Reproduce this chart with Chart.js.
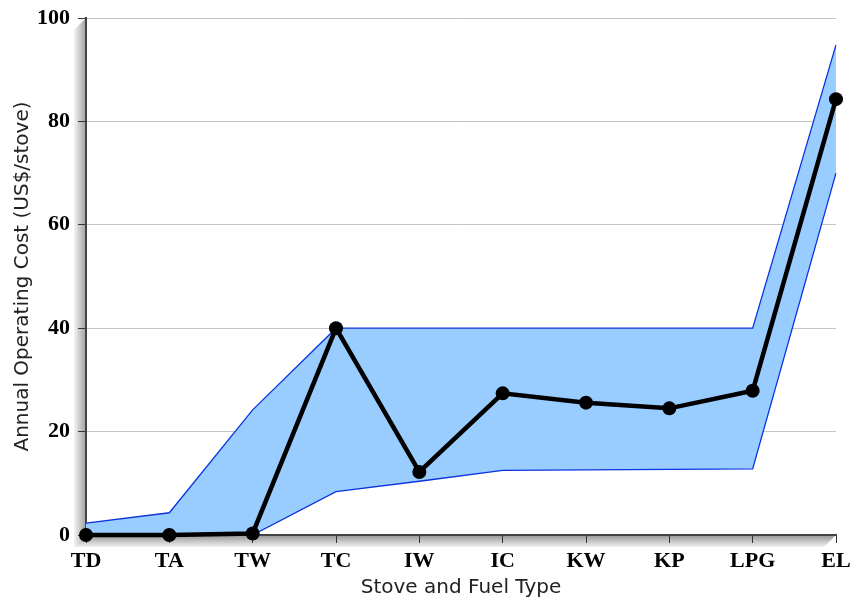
<!DOCTYPE html>
<html>
<head>
<meta charset="utf-8">
<script src="https://cdn.jsdelivr.net/npm/chart.js@4"></script>
<style>
  html, body { margin: 0; padding: 0; background: #ffffff; }
  #wrap { width: 852px; height: 600px; }
</style>
</head>
<body>
<div id="wrap"><canvas id="c" width="852" height="600"></canvas></div>
<script>
// Stove and fuel types
const categories = ['TD', 'TA', 'TW', 'TC', 'IW', 'IC', 'KW', 'KP', 'LPG', 'EL'];
// Mean annual operating cost (US$/stove)
const meanCost = [0, 0, 0.3, 40, 12.2, 27.4, 25.6, 24.5, 27.9, 84.3];
// Lower and upper limits of the cost range
const lowCost  = [0, 0, 0, 8.4, 10.4, 12.5, 12.6, 12.7, 12.8, 70];
const highCost = [2.3, 4.3, 24.2, 40, 40, 40, 40, 40, 40, 94.8];
// Y axis ticks
const yTicks = [0, 20, 40, 60, 80, 100];

// Grey bevel along the left and bottom axes
const bevelPlugin = {
  id: 'bevel',
  beforeDraw(chart) {
    const { ctx, chartArea: a } = chart;
    const d = 12;
    ctx.save();
    let g = ctx.createLinearGradient(a.left - d, 0, a.left, 0);
    g.addColorStop(0, '#f4f4f4');
    g.addColorStop(1, '#a0a0a0');
    ctx.fillStyle = g;
    ctx.beginPath();
    ctx.moveTo(a.left, a.top);
    ctx.lineTo(a.left - d, a.top + d);
    ctx.lineTo(a.left - d, a.bottom + d);
    ctx.lineTo(a.left, a.bottom);
    ctx.closePath();
    ctx.fill();
    g = ctx.createLinearGradient(0, a.bottom, 0, a.bottom + d);
    g.addColorStop(0, '#949494');
    g.addColorStop(1, '#f2f2f2');
    ctx.fillStyle = g;
    ctx.beginPath();
    ctx.moveTo(a.left, a.bottom);
    ctx.lineTo(a.left - d, a.bottom + d);
    ctx.lineTo(a.right - d, a.bottom + d);
    ctx.lineTo(a.right, a.bottom);
    ctx.closePath();
    ctx.fill();
    ctx.restore();
  }
};

const serifBold = { family: "'Liberation Serif', 'Times New Roman', serif", size: 22, weight: 'bold' };
const titleFont = { family: "'DejaVu Sans', sans-serif", size: 20 };

new Chart(document.getElementById('c'), {
  type: 'line',
  data: {
    labels: categories,
    datasets: [
      {
        label: 'Mean',
        data: meanCost,
        borderColor: '#000000',
        borderWidth: 4.5,
        pointRadius: 7,
        pointBackgroundColor: '#000000',
        pointBorderColor: '#000000',
        pointBorderWidth: 0,
        tension: 0,
        fill: false,
        clip: false
      },
      {
        label: 'Low',
        data: lowCost,
        borderColor: '#0a34e0',
        borderWidth: 1.3,
        pointRadius: 0,
        tension: 0,
        fill: false
      },
      {
        label: 'High',
        data: highCost,
        borderColor: '#0a34e0',
        borderWidth: 1.3,
        pointRadius: 0,
        tension: 0,
        backgroundColor: '#99ccff',
        fill: 1
      }
    ]
  },
  options: {
    responsive: false,
    animation: false,
    layout: { padding: { top: 18, right: 16, left: 0, bottom: 0 } },
    plugins: {
      legend: { display: false },
      tooltip: { enabled: false }
    },
    scales: {
      x: {
        type: 'category',
        offset: false,
        grid: {
          drawOnChartArea: false,
          drawTicks: true,
          tickLength: 8,
          tickColor: '#333333',
          tickWidth: 1
        },
        border: { display: true, color: '#444444', width: 2 },
        ticks: { color: '#000000', font: serifBold, padding: 5, maxRotation: 0, autoSkip: false },
        title: {
          display: true,
          text: 'Stove and Fuel Type',
          color: '#222222',
          font: titleFont,
          padding: { top: 0, bottom: 0 }
        },
        afterFit(s) { s.height = 65; s.paddingLeft = 0; s.paddingRight = 0; }
      },
      y: {
        min: 0,
        max: 100,
        afterBuildTicks(s) { s.ticks = yTicks.map(v => ({ value: v })); },
        grid: {
          color: ctx => (ctx.tick && ctx.tick.value === 0) ? 'rgba(0,0,0,0)' : '#c4c4c4',
          lineWidth: 1,
          drawTicks: true,
          tickLength: 8,
          tickColor: '#333333'
        },
        border: { display: true, color: '#444444', width: 2 },
        ticks: { color: '#000000', font: serifBold, padding: 8 },
        title: {
          display: true,
          text: 'Annual Operating Cost (US$/stove)',
          color: '#222222',
          font: titleFont,
          padding: { top: 11, bottom: 4 }
        },
        afterFit(s) { s.width = 86; s.paddingTop = 0; s.paddingBottom = 0; }
      }
    }
  },
  plugins: [bevelPlugin]
});
</script>
</body>
</html>
